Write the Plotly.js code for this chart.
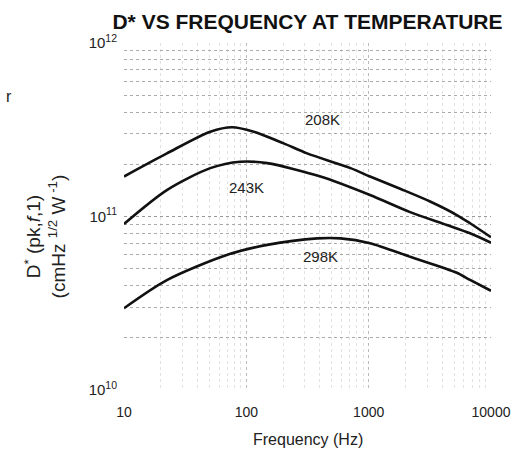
<!DOCTYPE html>
<html>
<head>
<meta charset="utf-8">
<script src="https://cdn.plot.ly/plotly-3.0.1.min.js"></script>
<style>html,body{margin:0;padding:0;background:#fff;}#chart{width:525px;height:449px;}</style>
</head>
<body>
<div id="chart"></div>
<script>
// Frequency (Hz) and D* values for each temperature
const freq208 = [10, 22.4, 50.7, 76.4, 115, 202, 314, 711, 1026, 1828, 3177, 5250, 6745, 10000];
const dstar208 = [1.70e11, 2.31e11, 3.08e11, 3.27e11, 3.08e11, 2.64e11, 2.31e11, 1.90e11, 1.70e11, 1.44e11, 1.22e11, 1.02e11, 9.14e10, 7.59e10];

const freq243 = [10, 22.4, 50.7, 89.3, 148, 404, 1026, 2183, 4356, 6745, 10000];
const dstar243 = [9.06e10, 1.42e11, 1.90e11, 2.07e11, 2.03e11, 1.70e11, 1.33e11, 1.06e11, 8.94e10, 8.0e10, 7.06e10];

const freq298 = [10, 22.4, 69.2, 148, 380, 589, 1026, 2183, 5250, 6745, 10000];
const dstar298 = [2.96e10, 4.30e10, 6.0e10, 6.86e10, 7.48e10, 7.48e10, 7.02e10, 5.86e10, 4.74e10, 4.31e10, 3.73e10];

const xTickVals = [10, 100, 1000, 10000];
const xTickText = ['10', '100', '1000', '10000'];
const yTickVals = [1e10, 1e11, 1e12];
const yTickText = ['10<sup>10</sup>', '10<sup>11</sup>', '10<sup>12</sup>'];

const curveLabels = ['208K', '243K', '298K'];
const labelFreq = [416, 101, 401];
const labelDstar = [3.6e11, 1.46e11, 5.85e10];

const lineStyle = {color: '#111', width: 2.6, shape: 'spline', smoothing: 0.8};
const traces = [
  {x: freq208, y: dstar208, mode: 'lines', line: lineStyle, hoverinfo: 'skip'},
  {x: freq243, y: dstar243, mode: 'lines', line: lineStyle, hoverinfo: 'skip'},
  {x: freq298, y: dstar298, mode: 'lines', line: lineStyle, hoverinfo: 'skip'}
];

const fam = 'Liberation Sans, Arial, sans-serif';
const txt = '#222';

const annotations = curveLabels.map((t, i) => ({
  x: Math.log10(labelFreq[i]), y: Math.log10(labelDstar[i]), xref: 'x', yref: 'y',
  text: t, showarrow: false, font: {family: fam, size: 15, color: txt}
}));
annotations.push({
  xref: 'paper', yref: 'paper', x: -0.214, y: 0.444, xanchor: 'center', yanchor: 'middle',
  textangle: -90,
  text: 'D<sup>*</sup> (pk,<i>f</i>,1)<br>(cmHz <sup>1/2</sup> W<sup> -1</sup>)',
  showarrow: false, font: {family: fam, size: 19, color: txt}
});
annotations.push({
  xref: 'paper', yref: 'paper', x: 0.5, y: -0.144, xanchor: 'center', yanchor: 'middle',
  text: 'Frequency (Hz)', showarrow: false,
  font: {family: fam, size: 16, color: txt}
});
annotations.push({
  xref: 'paper', yref: 'paper', x: -0.3125, y: 0.847, xanchor: 'center', yanchor: 'middle',
  text: 'r', showarrow: false, font: {family: fam, size: 16, color: txt}
});

const layout = {
  width: 525, height: 449,
  margin: {l: 124, r: 34, t: 43, b: 59},
  paper_bgcolor: '#fff', plot_bgcolor: '#fff',
  showlegend: false,
  font: {family: fam, color: txt, size: 14},
  title: {
    text: '<b>D* VS FREQUENCY AT TEMPERATURE</b>',
    font: {family: fam, size: 21, color: '#111'},
    x: 0.5, xref: 'paper', xanchor: 'center', y: 0.952, yanchor: 'middle'
  },
  xaxis: {
    type: 'log', range: [1, 4], tickvals: xTickVals, ticktext: xTickText,
    showline: false, zeroline: false, ticks: '', ticklabelstandoff: 12,
    showgrid: true, gridcolor: '#bbb', griddash: 'dot', gridwidth: 1,
    minor: {dtick: 'D1', showgrid: true, gridcolor: '#e2e2e2', griddash: 'dot', gridwidth: 1},
    tickfont: {family: fam, size: 14, color: txt}
  },
  yaxis: {
    type: 'log', range: [10, 12], tickvals: yTickVals, ticktext: yTickText,
    showline: false, zeroline: false, ticks: '', ticklabelstandoff: 6,
    showgrid: true, gridcolor: '#999', griddash: 'dot', gridwidth: 1,
    minor: {dtick: 'D1', showgrid: true, gridcolor: '#aaa', griddash: 'dot', gridwidth: 1},
    tickfont: {family: fam, size: 15, color: txt}
  },
  annotations: annotations
};

Plotly.newPlot('chart', traces, layout, {staticPlot: true, displayModeBar: false});
</script>
</body>
</html>
